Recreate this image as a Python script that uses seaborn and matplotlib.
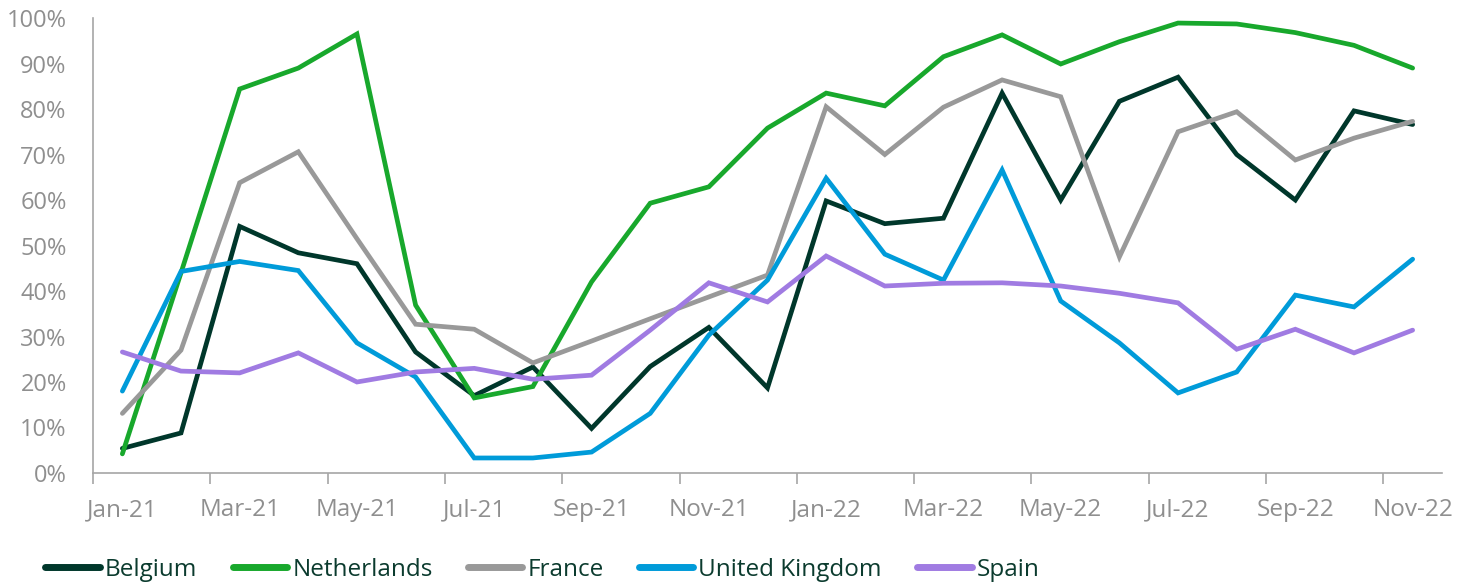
"""
Monthly share per country, Jan-21 to Nov-22
"""
import pandas as pd
import matplotlib.pyplot as plt
import matplotlib.ticker as mtick
import seaborn as sns

months = ['Jan-21', 'Feb-21', 'Mar-21', 'Apr-21', 'May-21', 'Jun-21', 'Jul-21',
          'Aug-21', 'Sep-21', 'Oct-21', 'Nov-21', 'Dec-21', 'Jan-22', 'Feb-22',
          'Mar-22', 'Apr-22', 'May-22', 'Jun-22', 'Jul-22', 'Aug-22', 'Sep-22',
          'Oct-22', 'Nov-22']

belgium = [5.4, 8.8, 54.2, 48.4, 46.0, 26.6, 17.0, 23.3, 9.8, 23.4, 32.0, 18.7,
           59.8, 54.8, 56.0, 83.5, 60.0, 81.7, 87.0, 70.0, 60.0, 79.6, 76.6]
netherlands = [4.2, 44.0, 84.4, 89.0, 96.5, 36.9, 16.5, 19.0, 42.0, 59.3, 62.9, 75.8,
               83.5, 80.7, 91.5, 96.3, 89.9, 94.8, 98.9, 98.7, 96.8, 94.0, 89.0]
france = [13.1, 27.0, 63.8, 70.6, 51.5, 32.7, 31.6, 24.2, 29.0, 33.9, 38.7, 43.5,
          80.5, 70.0, 80.4, 86.4, 82.7, 47.5, 75.0, 79.4, 68.8, 73.6, 77.3]
united_kingdom = [18.0, 44.3, 46.5, 44.5, 28.6, 21.1, 3.3, 3.3, 4.6, 13.1, 30.3, 42.4,
                  64.8, 48.1, 42.4, 66.6, 37.8, 28.6, 17.6, 22.2, 39.1, 36.5, 47.0]
spain = [26.6, 22.4, 22.0, 26.4, 20.0, 22.2, 23.0, 20.6, 21.5, 31.4, 41.8, 37.6,
         47.7, 41.1, 41.7, 41.8, 41.1, 39.5, 37.4, 27.2, 31.6, 26.4, 31.4]

countries = ['Belgium', 'Netherlands', 'France', 'United Kingdom', 'Spain']
colors = ['#00372B', '#18A82C', '#999999', '#009BD9', '#A07BE2']

series = [belgium, netherlands, france, united_kingdom, spain]
rows = []
for name, vals in zip(countries, series):
    for i, v in enumerate(vals):
        rows.append({'month': i, 'share': v / 100, 'country': name})
df = pd.DataFrame(rows)

sns.set_style('white')
plt.rcParams['font.family'] = ['Open Sans', 'DejaVu Sans']

fig = plt.figure(figsize=(14.72, 5.82), dpi=100)
ax = fig.add_axes([0.0632, 0.1873, 0.9164, 0.7817])

sns.lineplot(data=df, x='month', y='share', hue='country', hue_order=countries,
             palette=colors, linewidth=3.4, ax=ax, legend=False)
for line in ax.lines:
    line.set_solid_capstyle('round')
    line.set_solid_joinstyle('miter')
    line.set_clip_on(False)

ax.set_xlim(-0.5, len(months) - 0.5)
ax.set_ylim(0, 1)
ax.set_xticks(range(0, len(months), 2))
ax.set_xticklabels(months[::2])
ax.set_xticks([x - 0.5 for x in range(0, len(months), 2)], minor=True)
ax.set_yticks([i / 10 for i in range(11)])
ax.yaxis.set_major_formatter(mtick.PercentFormatter(1.0, decimals=0))

ax.tick_params(axis='x', which='major', length=0, pad=18, labelsize=17.5, labelcolor='#8f8f8f')
ax.tick_params(axis='x', which='minor', length=8, width=1.2, color='#a6a6a6', bottom=True)
ax.tick_params(axis='y', length=0, pad=19, labelsize=17, labelcolor='#8f8f8f')
ax.set_xlabel('')
ax.set_ylabel('')

sns.despine(ax=ax)
for side in ['left', 'bottom']:
    ax.spines[side].set_color('#a6a6a6')
    ax.spines[side].set_linewidth(1.2)

handles = [plt.Line2D([], [], color=c, lw=5, solid_capstyle='round') for c in colors]
leg = fig.legend(handles, countries, loc='lower left', bbox_to_anchor=(0.016, -0.037),
                 ncol=5, frameon=False, fontsize=17.5, handlelength=2.25,
                 handletextpad=0.2, columnspacing=1.45)
for t in leg.get_texts():
    t.set_color('#0B3B2E')

fig.savefig('out.png', dpi=100)
